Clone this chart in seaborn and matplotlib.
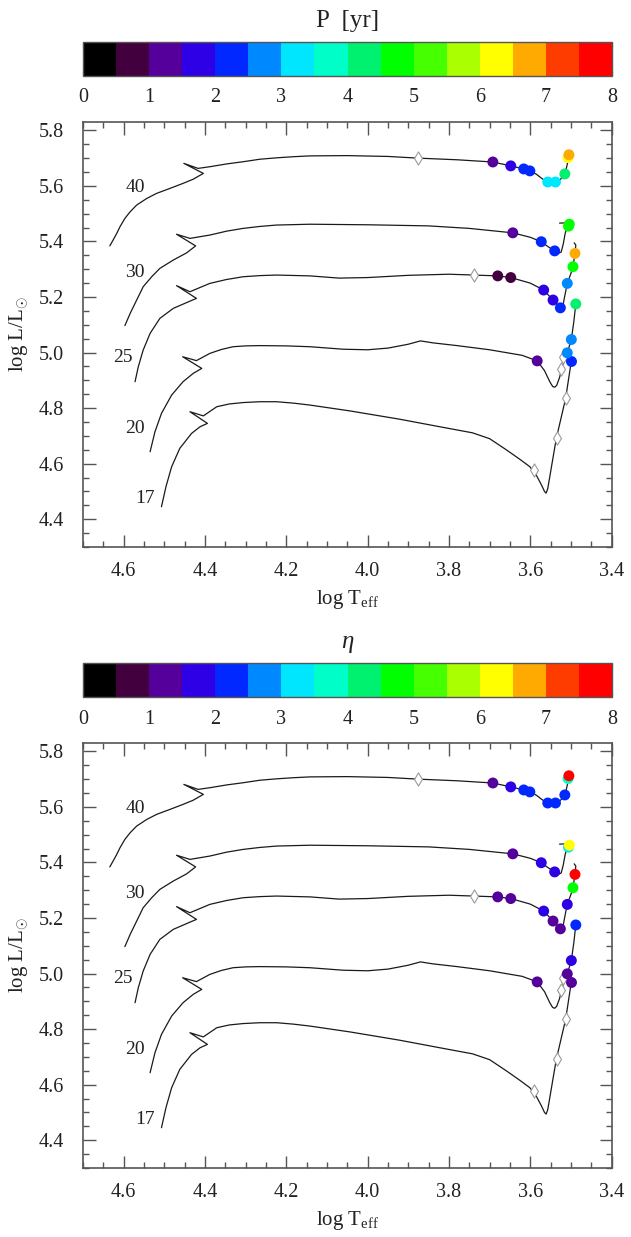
import numpy as np
import matplotlib
matplotlib.use("Agg")
import matplotlib.pyplot as plt
from matplotlib.colors import ListedColormap, BoundaryNorm
from matplotlib.cm import ScalarMappable
from matplotlib.ticker import MultipleLocator
import seaborn as sns

sns.set_style("ticks")
plt.rcParams["font.family"] = ["Liberation Serif", "DejaVu Serif"]
plt.rcParams["mathtext.fontset"] = "custom"
plt.rcParams["mathtext.rm"] = "Liberation Serif"
plt.rcParams["mathtext.it"] = "Liberation Serif:italic"

# ---- evolutionary tracks (log Teff, log L/Lsun) ----
masses = ["17", "20", "25", "30", "40"]

T17 = [4.507, 4.496, 4.482, 4.462, 4.433, 4.412, 4.394, 4.437, 4.404, 4.371, 4.340,
       4.306, 4.265, 4.224, 4.183, 4.142, 4.044, 3.921, 3.823, 3.742, 3.700, 3.659,
       3.625, 3.601, 3.585, 3.572, 3.565, 3.561, 3.557, 3.536, 3.513, 3.499]
L17 = [4.445, 4.517, 4.589, 4.655, 4.709, 4.733, 4.745, 4.787, 4.772, 4.805, 4.815,
       4.820, 4.823, 4.823, 4.818, 4.811, 4.790, 4.760, 4.733, 4.711, 4.690, 4.650,
       4.615, 4.589, 4.558, 4.522, 4.500, 4.494, 4.510, 4.691, 4.835, 4.970]

T20 = [4.535, 4.523, 4.507, 4.482, 4.454, 4.429, 4.408, 4.455, 4.421, 4.388, 4.360,
       4.331, 4.300, 4.265, 4.200, 4.142, 4.060, 4.000, 3.950, 3.900, 3.870, 3.840,
       3.780, 3.700, 3.620, 3.583, 3.565, 3.552, 3.545, 3.540, 3.535, 3.528, 3.522,
       3.516, 3.509, 3.499, 3.493, 3.488, 3.486]
L20 = [4.643, 4.715, 4.781, 4.847, 4.895, 4.925, 4.943, 4.985, 4.971, 4.997, 5.011,
       5.021, 5.024, 5.025, 5.024, 5.021, 5.012, 5.010, 5.016, 5.030, 5.042, 5.035,
       5.025, 5.010, 4.990, 4.970, 4.935, 4.895, 4.878, 4.875, 4.882, 4.910, 4.945,
       4.975, 4.999, 5.047, 5.110, 5.175, 5.190]

T25 = [4.572, 4.564, 4.552, 4.535, 4.511, 4.478, 4.445, 4.421, 4.470, 4.437, 4.388,
       4.347, 4.306, 4.265, 4.224, 4.142, 4.070, 4.000, 3.900, 3.800, 3.739, 3.680,
       3.648, 3.600, 3.567, 3.544, 3.526, 3.521, 3.517, 3.513, 3.509, 3.500, 3.495,
       3.490, 3.488, 3.492]
L25 = [4.895, 4.949, 5.009, 5.069, 5.123, 5.159, 5.180, 5.195, 5.241, 5.219, 5.249,
       5.263, 5.273, 5.277, 5.279, 5.276, 5.268, 5.270, 5.278, 5.282, 5.279, 5.276,
       5.270, 5.250, 5.225, 5.189, 5.161, 5.155, 5.190, 5.220, 5.249, 5.285, 5.309,
       5.357, 5.387, 5.395]

T30 = [4.597, 4.584, 4.568, 4.552, 4.531, 4.511, 4.478, 4.445, 4.423, 4.470, 4.437,
       4.388, 4.347, 4.306, 4.265, 4.224, 4.142, 4.000, 3.850, 3.750, 3.643, 3.600,
       3.573, 3.555, 3.540, 3.530, 3.524, 3.519, 3.514, 3.509, 3.505, 3.510, 3.528]
L30 = [5.097, 5.141, 5.189, 5.237, 5.273, 5.303, 5.333, 5.359, 5.384, 5.426, 5.411,
       5.423, 5.437, 5.447, 5.454, 5.459, 5.462, 5.460, 5.456, 5.447, 5.431, 5.415,
       5.399, 5.380, 5.366, 5.358, 5.362, 5.390, 5.430, 5.452, 5.462, 5.467, 5.466]

T40 = [4.634, 4.626, 4.617, 4.609, 4.597, 4.584, 4.568, 4.543, 4.519, 4.486, 4.454,
       4.429, 4.404, 4.452, 4.417, 4.388, 4.347, 4.306, 4.265, 4.224, 4.183, 4.142,
       4.050, 3.950, 3.877, 3.780, 3.692, 3.648, 3.616, 3.601, 3.585, 3.570, 3.557,
       3.545, 3.538, 3.528, 3.520, 3.515, 3.511, 3.508, 3.506, 3.503]
L40 = [5.384, 5.405, 5.429, 5.453, 5.483, 5.507, 5.531, 5.555, 5.573, 5.591, 5.609,
       5.624, 5.645, 5.681, 5.663, 5.669, 5.679, 5.687, 5.696, 5.701, 5.705, 5.708,
       5.709, 5.706, 5.700, 5.694, 5.686, 5.672, 5.661, 5.654, 5.642, 5.625, 5.614,
       5.611, 5.614, 5.621, 5.632, 5.643, 5.665, 5.685, 5.700, 5.712]

# ---- pulsation models along the tracks: period P [yr] and growth rate eta ----
dotT17 = [3.499]
dotL17 = [4.970]
P17 = [2.3]
eta17 = [1.2]

dotT20 = [3.583, 3.509, 3.499, 3.488]
dotL20 = [4.970, 4.999, 5.047, 5.175]
P20 = [1.2, 2.8, 2.8, 4.3]
eta20 = [1.2, 1.3, 1.7, 2.2]

dotT25 = [3.680, 3.648, 3.567, 3.544, 3.526, 3.509, 3.495, 3.490]
dotL25 = [5.276, 5.270, 5.225, 5.189, 5.161, 5.249, 5.309, 5.357]
P25 = [0.8, 0.8, 1.7, 1.8, 2.2, 2.8, 4.8, 6.7]
eta25 = [1.2, 1.2, 1.7, 1.4, 1.2, 1.7, 4.8, 7.7]

dotT30 = [3.643, 3.573, 3.540, 3.506, 3.504]
dotL30 = [5.431, 5.399, 5.366, 5.455, 5.462]
P30 = [1.2, 2.2, 2.3, 4.8, 4.8]
eta30 = [1.3, 1.7, 1.8, 3.2, 6.2]

dotT40 = [3.692, 3.648, 3.616, 3.601, 3.557, 3.538, 3.515, 3.507, 3.505]
dotL40 = [5.686, 5.672, 5.661, 5.654, 5.614, 5.614, 5.643, 5.702, 5.712]
P40 = [1.2, 1.7, 2.2, 2.2, 3.2, 3.2, 4.3, 6.2, 6.7]
eta40 = [1.2, 1.7, 2.2, 2.2, 2.2, 2.2, 2.3, 3.7, 7.7]

# ---- reference models (open diamonds) ----
diaT = [3.877, 3.739, 3.525, 3.520, 3.591, 3.534, 3.513]
diaL = [5.700, 5.279, 4.940, 4.985, 4.577, 4.691, 4.835]

# ---- track labels ----
labT = [4.548, 4.572, 4.601, 4.572, 4.572]
labL = [4.475, 4.727, 4.983, 5.289, 5.594]

# ---- discrete colour scale ----
bin_colors = ["#000000", "#43003f", "#55009a", "#2d00e6", "#0028ff", "#0088ff",
              "#00e6ff", "#00ffc8", "#00f070", "#00ff00", "#46ff00", "#aaff00",
              "#ffff00", "#ffaa00", "#ff3c00", "#ff0000"]
cbar_ticks = [0, 1, 2, 3, 4, 5, 6, 7, 8]

cmap = ListedColormap(bin_colors)
bounds = np.arange(0, 8.01, 0.5)
norm = BoundaryNorm(bounds, cmap.N)

tracks = {"17": (T17, L17), "20": (T20, L20), "25": (T25, L25),
          "30": (T30, L30), "40": (T40, L40)}
dots = {"17": (dotT17, dotL17, P17, eta17), "20": (dotT20, dotL20, P20, eta20),
        "25": (dotT25, dotL25, P25, eta25), "30": (dotT30, dotL30, P30, eta30),
        "40": (dotT40, dotL40, P40, eta40)}

W, H = 631, 1237
fig = plt.figure(figsize=(W / 100, H / 100), dpi=100)


def frac(x0, y0, x1, y1):
    return [x0 / W, 1 - y1 / H, (x1 - x0) / W, (y1 - y0) / H]


spine_c = "#555555"
text_c = "#222222"


def draw_panel(ax, cax, which, title, title_size):
    for m in masses:
        T, L = tracks[m]
        sns.lineplot(x=T, y=L, sort=False, estimator=None, color="#1a1a1a",
                     linewidth=0.9, ax=ax)
    sns.scatterplot(x=diaT, y=diaL, marker="d", s=45, color="white",
                    edgecolor="#9a9a9a", linewidth=0.8, ax=ax, zorder=3)
    for m in masses:
        dT, dL, p, e = dots[m]
        vals = p if which == "P" else e
        pal = {v: cmap(norm(v)) for v in vals}
        sns.scatterplot(x=dT, y=dL, hue=vals, palette=pal, legend=False,
                        s=62, linewidth=0, ax=ax, zorder=4)
    for m, tx, ly in zip(masses, labT, labL):
        ax.text(tx, ly, m, fontsize=14, color=text_c, ha="center", va="center")

    ax.set_xlim(4.70, 3.399)
    ax.set_ylim(4.30, 5.83)
    ax.xaxis.set_major_locator(MultipleLocator(0.2))
    ax.xaxis.set_minor_locator(MultipleLocator(0.05))
    ax.yaxis.set_major_locator(MultipleLocator(0.2))
    ax.yaxis.set_minor_locator(MultipleLocator(0.05))
    ax.tick_params(which="both", direction="in", top=True, right=True,
                   color=spine_c, width=1.0, labelcolor=text_c, labelsize=14.5)
    ax.tick_params(which="major", length=9)
    ax.tick_params(which="minor", length=4.5)
    ax.tick_params(axis="x", pad=11)
    ax.tick_params(axis="y", pad=14)
    for s in ax.spines.values():
        s.set_color(spine_c)
        s.set_linewidth(1.2)
    ax.set_xlabel(r"log $\mathrm{T}_{\mathrm{eff}}$", fontsize=15, color=text_c,
                  labelpad=5)
    ax.set_ylabel(r"log L/L$_{\odot}$", fontsize=15, color=text_c, labelpad=6)

    sm = ScalarMappable(norm=norm, cmap=cmap)
    cb = fig.colorbar(sm, cax=cax, orientation="horizontal", ticks=cbar_ticks,
                      drawedges=False)
    cb.outline.set_edgecolor(spine_c)
    cb.outline.set_linewidth(1.0)
    cax.set_xticks(np.arange(0.5, 8.0, 0.5), minor=True)
    cax.tick_params(which="both", direction="in", top=True, bottom=True,
                    length=4, width=0.8, color="#333333")
    cax.tick_params(which="major", labelsize=14.5, labelcolor=text_c, pad=9)
    cax.set_xticklabels([str(t) for t in cbar_ticks])
    cax.set_title(title, fontsize=title_size, color=text_c, pad=11)


ax1 = fig.add_axes(frac(83, 122, 612, 547))
cax1 = fig.add_axes(frac(83, 42, 612, 76))
ax2 = fig.add_axes(frac(83, 743, 612, 1168))
cax2 = fig.add_axes(frac(83, 663, 612, 697))

draw_panel(ax1, cax1, "P", "P  [yr]", 18)
draw_panel(ax2, cax2, "eta", r"$\eta$", 18)

fig.savefig("out.png", dpi=100)
